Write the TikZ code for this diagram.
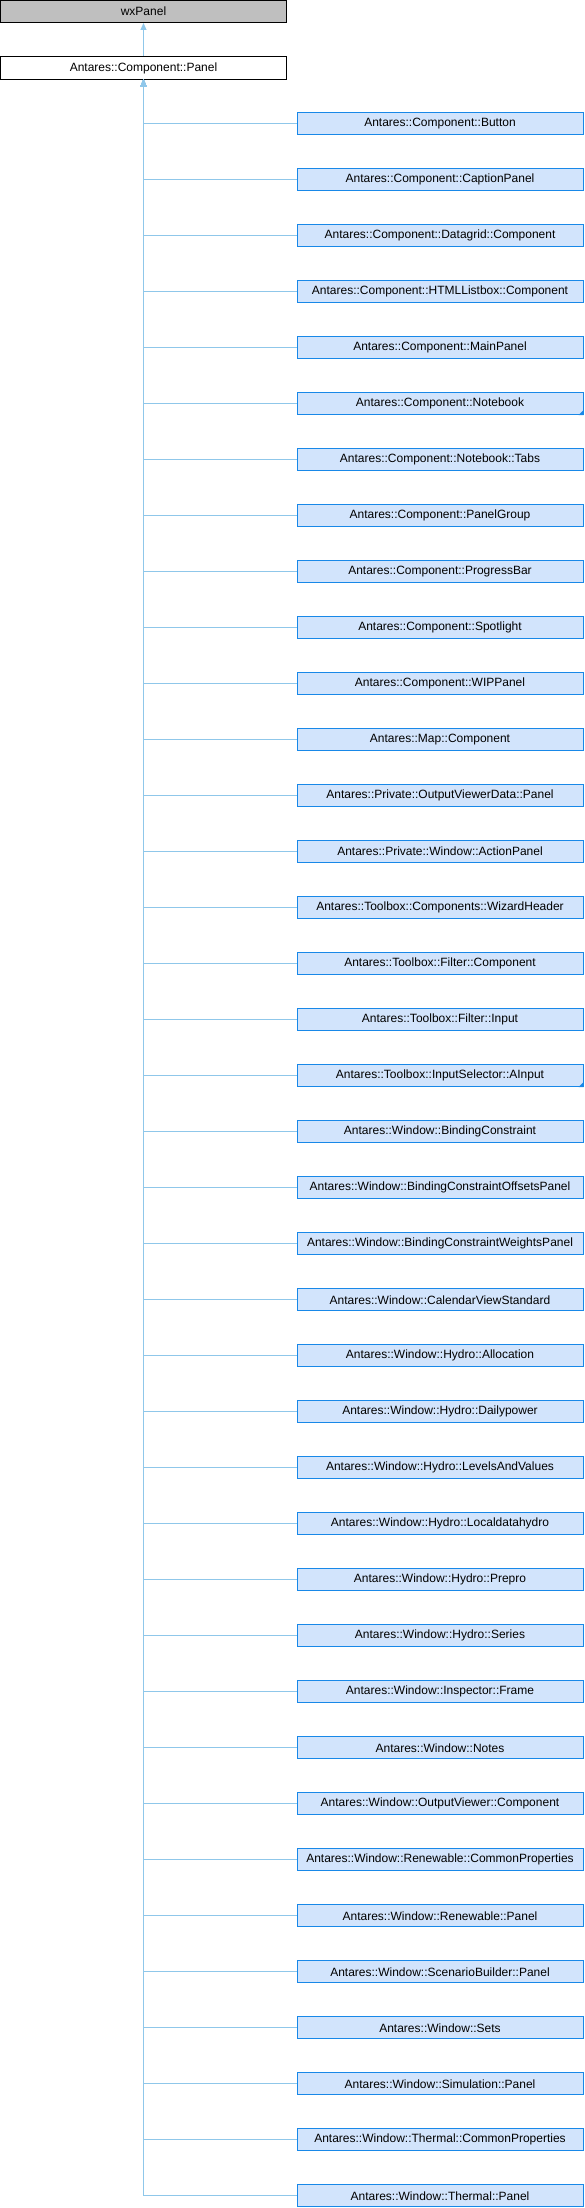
\documentclass[tikz,border=0pt]{standalone}
\usepackage{fontspec}
\setmainfont{Liberation Sans}
\usetikzlibrary{arrows.meta}
\definecolor{extfill}{RGB}{191,191,191}
\definecolor{subfill}{RGB}{210,228,252}
\definecolor{subline}{RGB}{24,136,232}
\definecolor{edgeblue}{RGB}{143,199,234}
\begin{document}
\begin{tikzpicture}[x=1pt,y=-1pt,font=\fontsize{12}{14}\selectfont,
    every node/.style={draw,rectangle,inner sep=0pt,line width=1pt,
    minimum width=286pt,minimum height=22pt},
    base/.style={fill=extfill,draw=black},
    top/.style={fill=white,draw=black},
    sub/.style={fill=subfill,draw=subline},
    edge/.style={draw=edgeblue,line width=1pt},
    tip/.style={{Triangle[length=7pt,width=6pt]}-}]
  \useasboundingbox (0,0) rectangle (584,2208);
  \node[base] (wx) at (143.5,11.5) {wxPanel};
  \node[top] (panel) at (143.5,68) {Antares::Component::Panel};

  \node[sub] (c1) at (440,123.7) {Antares::Component::Button};
  \node[sub] (c2) at (440,179.7) {Antares::Component::CaptionPanel};
  \node[sub] (c3) at (440,235.7) {Antares::Component::Datagrid::Component};
  \node[sub] (c4) at (440,291.7) {Antares::Component::HTMLListbox::Component};
  \node[sub] (c5) at (440,347.7) {Antares::Component::MainPanel};
  \node[sub] (c6) at (440,403.7) {Antares::Component::Notebook};
  \node[sub] (c7) at (440,459.7) {Antares::Component::Notebook::Tabs};
  \node[sub] (c8) at (440,515.7) {Antares::Component::PanelGroup};
  \node[sub] (c9) at (440,571.7) {Antares::Component::ProgressBar};
  \node[sub] (c10) at (440,627.7) {Antares::Component::Spotlight};
  \node[sub] (c11) at (440,683.7) {Antares::Component::WIPPanel};
  \node[sub] (c12) at (440,739.7) {Antares::Map::Component};
  \node[sub] (c13) at (440,795.7) {Antares::Private::OutputViewerData::Panel};
  \node[sub] (c14) at (440,851.7) {Antares::Private::Window::ActionPanel};
  \node[sub] (c15) at (440,907.7) {Antares::Toolbox::Components::WizardHeader};
  \node[sub] (c16) at (440,963.7) {Antares::Toolbox::Filter::Component};
  \node[sub] (c17) at (440,1019.7) {Antares::Toolbox::Filter::Input};
  \node[sub] (c18) at (440,1075.7) {Antares::Toolbox::InputSelector::AInput};
  \node[sub] (c19) at (440,1131.7) {Antares::Window::BindingConstraint};
  \node[sub] (c20) at (440,1187.7) {Antares::Window::BindingConstraintOffsetsPanel};
  \node[sub] (c21) at (440,1243.7) {Antares::Window::BindingConstraintWeightsPanel};
  \node[sub] (c22) at (440,1299.7) {Antares::Window::CalendarViewStandard};
  \node[sub] (c23) at (440,1355.7) {Antares::Window::Hydro::Allocation};
  \node[sub] (c24) at (440,1411.7) {Antares::Window::Hydro::Dailypower};
  \node[sub] (c25) at (440,1467.7) {Antares::Window::Hydro::LevelsAndValues};
  \node[sub] (c26) at (440,1523.7) {Antares::Window::Hydro::Localdatahydro};
  \node[sub] (c27) at (440,1579.7) {Antares::Window::Hydro::Prepro};
  \node[sub] (c28) at (440,1635.7) {Antares::Window::Hydro::Series};
  \node[sub] (c29) at (440,1691.7) {Antares::Window::Inspector::Frame};
  \node[sub] (c30) at (440,1747.7) {Antares::Window::Notes};
  \node[sub] (c31) at (440,1803.7) {Antares::Window::OutputViewer::Component};
  \node[sub] (c32) at (440,1859.7) {Antares::Window::Renewable::CommonProperties};
  \node[sub] (c33) at (440,1915.7) {Antares::Window::Renewable::Panel};
  \node[sub] (c34) at (440,1971.7) {Antares::Window::ScenarioBuilder::Panel};
  \node[sub] (c35) at (440,2027.7) {Antares::Window::Sets};
  \node[sub] (c36) at (440,2083.7) {Antares::Window::Simulation::Panel};
  \node[sub] (c37) at (440,2139.7) {Antares::Window::Thermal::CommonProperties};
  \node[sub] (c38) at (440,2195.7) {Antares::Window::Thermal::Panel};

  % corner marks
  \fill[subline] (c6.south east) -- ++(-5pt,0pt) -- ++(5pt,5pt) -- cycle;
  \fill[subline] (c18.south east) -- ++(-5pt,0pt) -- ++(5pt,5pt) -- cycle;

  \draw[edge,tip] (wx) -- (panel);
  \foreach \i in {1,...,38}
    \draw[edge,tip] (panel) |- (c\i);
\end{tikzpicture}
\end{document}
